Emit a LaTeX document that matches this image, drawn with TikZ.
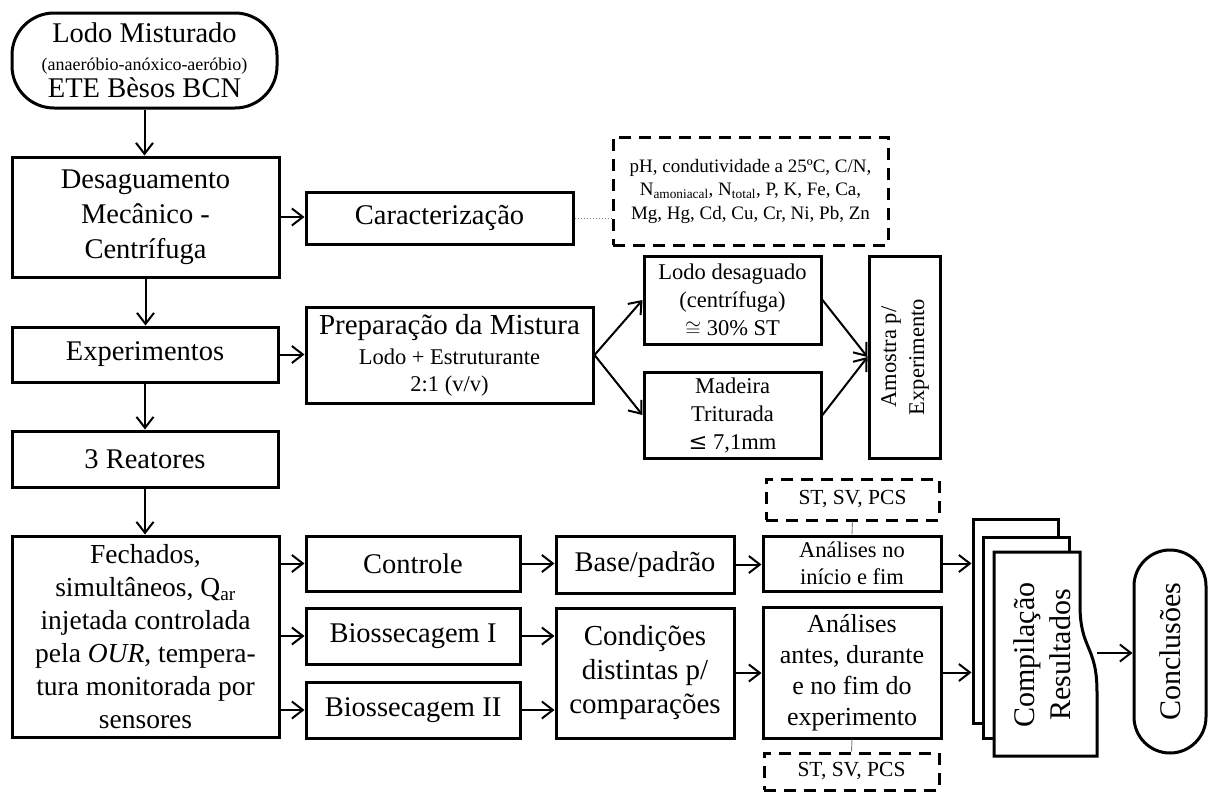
\documentclass[tikz,border=0pt]{standalone}
\usepackage{fontspec}
\setmainfont{Liberation Serif}
\newfontfamily\symfont{DejaVu Serif}
\usetikzlibrary{arrows.meta,calc}
\begin{document}
\begin{tikzpicture}[x=1pt,y=-1pt,
  box/.style={draw, line width=3pt, inner sep=2pt, align=center, fill=white},
  dbox/.style={draw, line width=3pt, dash pattern=on 12pt off 8pt, inner sep=2pt, align=center},
  sheet/.style={draw, line width=3pt, fill=white, inner sep=0pt},
  arr/.style={line width=2pt, -{Straight Barb[length=11pt,width=17pt]}},
  link/.style={line width=0.9pt, gray},
  fmain/.style={font=\fontsize{28.5}{35}\selectfont},
  fsmall/.style={font=\fontsize{22.5}{28}\selectfont}]
\useasboundingbox (0,0) rectangle (1208,793);

% left column
\node[box, rounded corners=42pt, minimum width=265, minimum height=95, font=\fontsize{28.5}{27.5}\selectfont] (start) at (144.5,60.5)
  {Lodo Misturado\\{\fontsize{18}{27.5}\selectfont (anaeróbio-anóxico-aeróbio)}\\ETE Bèsos BCN};
\node[box, minimum width=267, minimum height=120, fmain] (desag) at (145.5,217) {Desaguamento\\Mecânico -\\Centrífuga};
\node[box, minimum width=266, minimum height=55, fmain] (exper) at (145,354.5) {Experimentos};
\node[box, minimum width=266, minimum height=56, fmain] (reat) at (145,459) {3 Reatores};
\node[box, minimum width=267, minimum height=201, font=\fontsize{27.5}{33}\selectfont] (fech) at (145.5,636.5)
  {Fechados,\\simultâneos, Q\textsubscript{ar}\\injetada controlada\\pela \textit{OUR}, tempera-\\tura monitorada por\\sensores};

% upper middle
\node[box, minimum width=267, minimum height=52, fmain] (carac) at (439.5,218) {Caracterização};
\node[dbox, minimum width=275, minimum height=108, font=\fontsize{19}{23.5}\selectfont] (param) at (750.5,191)
  {pH, condutividade a 25ºC, C/N,\\N\textsubscript{amoniacal}, N\textsubscript{total}, P, K, Fe, Ca,\\Mg, Hg, Cd, Cu, Cr, Ni, Pb, Zn};
\node[box, minimum width=287, minimum height=96, font=\fontsize{22.5}{27}\selectfont] (prep) at (449.5,355)
  {{\fontsize{29}{27}\selectfont Preparação da Mistura}\\[3pt]Lodo + Estruturante\\2:1 (v/v)};
\node[box, minimum width=177, minimum height=88, fsmall] (lodod) at (732.5,300) {Lodo desaguado\\(centrífuga)\\$\cong$ 30\% ST};
\node[box, minimum width=177, minimum height=86, fsmall] (madeira) at (732.5,415) {Madeira\\Triturada\\{\symfont ≤} 7,1mm};
\node[box, minimum width=71, minimum height=202, fsmall] (amostra) at (904.5,357)
  {\rotatebox{90}{\begin{tabular}{@{}c@{}}Amostra p/\\Experimento\end{tabular}}};

% bottom
\node[box, minimum width=214, minimum height=55, fmain] (ctrl) at (413,563.5) {Controle};
\node[box, minimum width=214, minimum height=56, fmain] (bio1) at (413,636) {Biossecagem I};
\node[box, minimum width=214, minimum height=56, fmain] (bio2) at (413,710) {Biossecagem II};
\node[box, minimum width=178, minimum height=57, fmain] (base) at (645,564.5) {Base/padrão};
\node[box, minimum width=178, minimum height=130, font=\fontsize{29}{34}\selectfont] (cond) at (645,673) {Condições\\distintas p/\\comparações};
\node[dbox, minimum width=173, minimum height=41, font=\fontsize{21.5}{26}\selectfont] (st1) at (852.5,499.5) {ST, SV, PCS};
\node[box, minimum width=178, minimum height=55, font=\fontsize{22.5}{27}\selectfont] (an1) at (852,563.5) {Análises no\\início e fim};
\node[box, minimum width=178, minimum height=131, font=\fontsize{26}{31}\selectfont] (an2) at (852,672.5) {Análises\\antes, durante\\e no fim do\\experimento};
\node[dbox, minimum width=175, minimum height=37, font=\fontsize{21.5}{26}\selectfont] (st2) at (851.5,771.5) {ST, SV, PCS};

% document stack
\node[sheet, minimum width=85, minimum height=204] (back) at (1015.5,621) {};
\node[sheet, minimum width=86, minimum height=201] (mid) at (1026,637.5) {};
\draw[line width=3pt, fill=white] (994,552) -- (1080,552) -- (1080,605)
  .. controls (1080,650) and (1097,645) .. (1097,692) -- (1097,756) -- (994,756) -- cycle;
\node[font=\fontsize{30}{36}\selectfont] (comp) at (1045,655)
  {\rotatebox{90}{\begin{tabular}{@{}c@{}}Compilação\\Resultados\end{tabular}}};
\coordinate (compout) at (1097,653);
\node[box, rounded corners=36pt, minimum width=72, minimum height=203, font=\fontsize{30}{36}\selectfont] (concl) at (1170,651.5)
  {\rotatebox{90}{Conclusões}};

% connectors
\draw[arr] (start.south) -- (start.south |- desag.north);
\draw[arr] (desag.south) -- (desag.south |- exper.north);
\draw[arr] (exper.south) -- (exper.south |- reat.north);
\draw[arr] (reat.south) -- (reat.south |- fech.north);
\draw[arr] (desag.east) -- (desag.east -| carac.west);
\draw[gray, dotted, line width=1pt] (carac.east) -- (carac.east -| param.west);
\draw[arr] (exper.east) -- (exper.east -| prep.west);
\draw[arr] (prep.east) -- (lodod.west);
\draw[arr] (prep.east) -- (madeira.west);
\draw[arr] (lodod.east) -- (amostra.west);
\draw[arr] (madeira.east) -- (amostra.west);
\draw[arr] (ctrl.west -| fech.east) -- (ctrl.west);
\draw[arr] (bio1.west -| fech.east) -- (bio1.west);
\draw[arr] (bio2.west -| fech.east) -- (bio2.west);
\draw[arr] (ctrl.east) -- (ctrl.east -| base.west);
\draw[arr] (bio1.east) -- (bio1.east -| cond.west);
\draw[arr] (bio2.east) -- (bio2.east -| cond.west);
\draw[arr] (base.east) -- (base.east -| an1.west);
\draw[arr] (cond.east) -- (cond.east -| an2.west);
\draw[arr] (an1.east) -- (an1.east -| back.west);
\draw[arr] (an2.east) -- (an2.east -| back.west);
\draw[arr] (compout) -- (compout -| concl.west);
\draw[link] (an1.north) -- (st1.south);
\draw[link] (an2.south) -- (st2.north);
\end{tikzpicture}
\end{document}
